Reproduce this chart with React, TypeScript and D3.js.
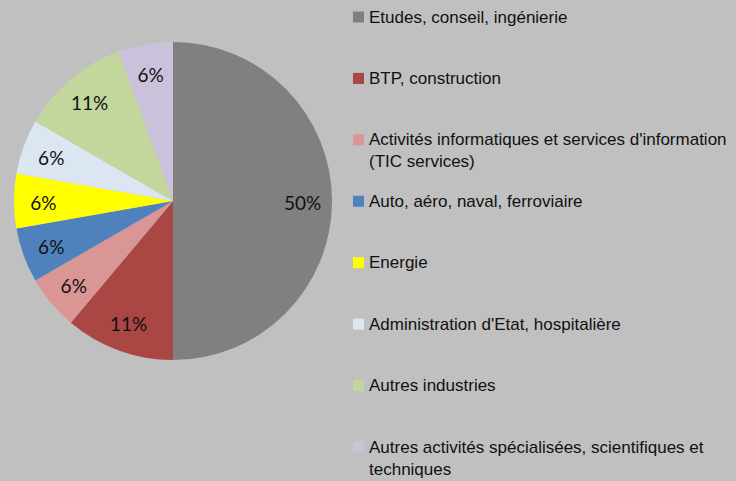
import React from "react";
import * as d3 from "d3";

const categories = [
  "Etudes, conseil, ingénierie",
  "BTP, construction",
  "Activités informatiques et services d'information (TIC services)",
  "Auto, aéro, naval, ferroviaire",
  "Energie",
  "Administration d'Etat, hospitalière",
  "Autres industries",
  "Autres activités spécialisées, scientifiques et techniques",
];
const legendLines = [
  ["Etudes, conseil, ingénierie"],
  ["BTP, construction"],
  ["Activités informatiques et services d'information", "(TIC services)"],
  ["Auto, aéro, naval, ferroviaire"],
  ["Energie"],
  ["Administration d'Etat, hospitalière"],
  ["Autres industries"],
  ["Autres activités spécialisées, scientifiques et", "techniques"],
];
const counts = [9, 2, 1, 1, 1, 1, 2, 1];
const colors = ["#808080", "#AA4643", "#D99694", "#4F81BD", "#FFFF00", "#DCE6F2", "#C3D69B", "#CCC1DA"];

const W = 736;
const H = 481;

export default function App() {
  const cx = 173;
  const cy = 201;
  const r = 159;
  const total = d3.sum(counts);
  const pie = d3.pie<number>().sort(null).value((d) => d);
  const arcs = pie(counts);
  const arc = d3.arc<d3.PieArcDatum<number>>().innerRadius(0).outerRadius(r);
  const labelArc = d3.arc<d3.PieArcDatum<number>>().innerRadius(r * 0.815).outerRadius(r * 0.815);
  const color = d3.scaleOrdinal<string, string>().domain(categories).range(colors);
  const legendY = d3.scaleLinear().domain([0, categories.length - 1]).range([17, 447]);

  return (
    <svg width={W} height={H} style={{ position: "absolute", left: 0, top: 0, display: "block" }}>
      <rect x={0} y={0} width={W} height={H} fill="#C0C0C0" />
      <g transform={`translate(${cx},${cy})`}>
        {arcs.map((a, i) => (
          <path key={i} d={arc(a) || ""} fill={color(categories[i])} />
        ))}
        {arcs.map((a, i) => {
          const [x, y] = labelArc.centroid(a);
          return (
            <text
              key={"l" + i}
              x={x}
              y={y + 1}
              textAnchor="middle"
              dominantBaseline="central"
              fontFamily="Lato, 'Open Sans', sans-serif"
              fontSize={19}
              fill="#111"
            >
              {Math.round((a.data / total) * 100) + "%"}
            </text>
          );
        })}
      </g>
      <g>
        {categories.map((c, i) => {
          const y = legendY(i);
          return (
            <g key={"lg" + i}>
              <rect x={353} y={y - 5.5} width={11} height={11} fill={color(c)} />
              {legendLines[i].map((line, j) => (
                <text
                  key={j}
                  x={369}
                  y={y + j * 22}
                  dominantBaseline="central"
                  fontFamily="'Liberation Sans', Arial, sans-serif"
                  fontSize={17}
                  fill="#111"
                >
                  {line}
                </text>
              ))}
            </g>
          );
        })}
      </g>
    </svg>
  );
}
